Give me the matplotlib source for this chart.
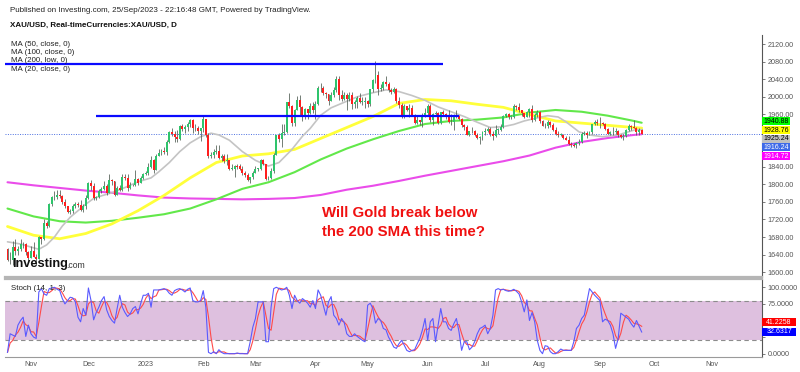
import matplotlib
matplotlib.use('Agg')
import matplotlib.pyplot as plt
import numpy as np
import pandas as pd
from matplotlib.patches import Rectangle

# ---------------- data ----------------
start_date = '2022-10-19'
first_open = 1652
close = [1628, 1627, 1657, 1649, 1652, 1665, 1663, 1645, 1633, 1647,
         1635, 1630, 1681, 1676, 1712, 1706, 1755, 1771, 1772, 1777,
         1774, 1761, 1751, 1738, 1740, 1750, 1755, 1754, 1741, 1750,
         1768, 1803, 1797, 1769, 1771, 1786, 1789, 1797, 1781, 1810,
         1807, 1777, 1793, 1788, 1817, 1814, 1792, 1798, 1798, 1813,
         1804, 1815, 1824, 1827, 1840, 1855, 1833, 1865, 1872, 1877,
         1875, 1897, 1920, 1916, 1908, 1904, 1933, 1926, 1931, 1937,
         1946, 1930, 1928, 1923, 1928, 1950, 1912, 1865, 1867, 1874,
         1876, 1861, 1865, 1854, 1855, 1836, 1836, 1842, 1841, 1835,
         1825, 1822, 1811, 1817, 1827, 1836, 1836, 1856, 1847, 1813,
         1815, 1831, 1868, 1913, 1904, 1918, 1919, 1989, 1978, 1940,
         1970, 1993, 1977, 1955, 1973, 1964, 1980, 1969, 1984, 2020,
         2021, 2008, 2007, 1990, 2004, 2015, 2040, 2004, 1995, 2005,
         1995, 2004, 1983, 1989, 1998, 1989, 1989, 1990, 1983, 2017,
         2039, 2050, 2017, 2021, 2035, 2030, 2015, 2011, 2018, 1990,
         1982, 1957, 1978, 1971, 1975, 1958, 1941, 1946, 1943, 1959,
         1962, 1978, 1948, 1961, 1963, 1940, 1965, 1961, 1957, 1943,
         1942, 1958, 1957, 1950, 1936, 1932, 1913, 1921, 1923, 1913,
         1907, 1908, 1919, 1921, 1926, 1915, 1911, 1925, 1925, 1932,
         1957, 1961, 1955, 1955, 1979, 1976, 1969, 1962, 1955, 1965,
         1972, 1946, 1959, 1965, 1944, 1934, 1933, 1943, 1936, 1925,
         1915, 1913, 1914, 1907, 1901, 1892, 1890, 1889, 1894, 1897,
         1915, 1917, 1914, 1920, 1937, 1942, 1940, 1940, 1939, 1926,
         1916, 1919, 1919, 1922, 1913, 1908, 1910, 1924, 1934, 1931,
         1930, 1920, 1925, 1916.24]
high = [1656, 1645, 1670, 1675, 1659, 1675, 1669, 1667, 1649, 1660,
        1669, 1642, 1683, 1681, 1722, 1717, 1757, 1774, 1786, 1787,
        1788, 1775, 1766, 1751, 1743, 1755, 1760, 1759, 1764, 1755,
        1775, 1805, 1810, 1804, 1773, 1790, 1795, 1807, 1800, 1824,
        1813, 1809, 1796, 1798, 1823, 1823, 1823, 1805, 1802, 1833,
        1815, 1819, 1826, 1830, 1850, 1865, 1858, 1869, 1881, 1880,
        1886, 1902, 1922, 1930, 1922, 1925, 1935, 1938, 1936, 1942,
        1949, 1949, 1937, 1933, 1930, 1959, 1950, 1918, 1874, 1880,
        1890, 1890, 1870, 1869, 1870, 1856, 1846, 1845, 1847, 1846,
        1841, 1831, 1827, 1818, 1830, 1842, 1838, 1857, 1858, 1847,
        1820, 1837, 1871, 1914, 1918, 1937, 1937, 1989, 2009, 1982,
        1973, 2003, 2004, 1980, 1975, 1972, 1986, 1988, 1990, 2025,
        2032, 2025, 2011, 2007, 2010, 2022, 2048, 2047, 2015, 2010,
        2008, 2010, 2012, 1993, 2003, 2009, 1999, 1999, 1993, 2019,
        2041, 2081, 2058, 2030, 2037, 2048, 2034, 2021, 2022, 2020,
        1999, 1985, 1984, 1980, 1984, 1981, 1960, 1957, 1948, 1963,
        1974, 1983, 1983, 1962, 1968, 1966, 1966, 1971, 1963, 1970,
        1960, 1960, 1969, 1959, 1951, 1939, 1935, 1923, 1931, 1925,
        1917, 1910, 1921, 1929, 1931, 1932, 1921, 1935, 1930, 1939,
        1959, 1963, 1964, 1959, 1984, 1982, 1987, 1969, 1964, 1967,
        1975, 1982, 1962, 1970, 1967, 1947, 1940, 1946, 1944, 1940,
        1932, 1922, 1918, 1915, 1911, 1911, 1898, 1895, 1898, 1904,
        1920, 1922, 1923, 1923, 1939, 1948, 1949, 1953, 1942, 1940,
        1928, 1923, 1932, 1928, 1925, 1915, 1915, 1926, 1937, 1936,
        1947, 1932, 1930, 1927]
low = [1626, 1618, 1617, 1638, 1640, 1648, 1654, 1640, 1627, 1631,
       1634, 1616, 1629, 1665, 1674, 1700, 1702, 1750, 1764, 1766,
       1770, 1755, 1747, 1735, 1733, 1734, 1747, 1748, 1740, 1738,
       1745, 1767, 1787, 1765, 1764, 1768, 1780, 1788, 1776, 1781,
       1799, 1774, 1776, 1785, 1785, 1810, 1784, 1789, 1796, 1797,
       1798, 1803, 1812, 1822, 1822, 1838, 1825, 1834, 1864, 1867,
       1869, 1867, 1895, 1911, 1896, 1897, 1901, 1922, 1918, 1922,
       1931, 1918, 1922, 1916, 1900, 1920, 1908, 1861, 1860, 1861,
       1870, 1857, 1853, 1850, 1844, 1832, 1832, 1818, 1836, 1832,
       1822, 1818, 1809, 1804, 1813, 1826, 1831, 1834, 1844, 1810,
       1810, 1812, 1826, 1868, 1896, 1885, 1912, 1918, 1975, 1934,
       1934, 1969, 1957, 1944, 1949, 1950, 1960, 1962, 1950, 1982,
       2010, 2005, 1998, 1981, 1990, 1999, 2012, 1993, 1991, 1993,
       1969, 1990, 1973, 1975, 1975, 1987, 1982, 1975, 1977, 1978,
       2011, 2032, 2005, 2014, 2015, 2025, 2010, 2006, 2008, 1987,
       1975, 1952, 1951, 1967, 1955, 1957, 1937, 1938, 1936, 1932,
       1955, 1958, 1943, 1935, 1956, 1938, 1938, 1958, 1950, 1941,
       1935, 1925, 1952, 1946, 1931, 1925, 1912, 1910, 1917, 1910,
       1903, 1893, 1902, 1912, 1919, 1911, 1902, 1908, 1915, 1923,
       1928, 1953, 1950, 1949, 1951, 1969, 1966, 1957, 1952, 1954,
       1955, 1942, 1945, 1953, 1941, 1933, 1928, 1928, 1932, 1921,
       1913, 1908, 1911, 1903, 1901, 1890, 1885, 1885, 1884, 1891,
       1895, 1912, 1905, 1912, 1915, 1935, 1936, 1930, 1936, 1924,
       1915, 1914, 1914, 1916, 1908, 1905, 1901, 1909, 1922, 1925,
       1928, 1914, 1913, 1915]

# Moving averages, read at sampled bars (bar index, value)
ma20_bar = [0, 5, 9, 12, 15, 18, 21, 24, 27, 30, 33, 36, 40, 45, 50, 55, 58, 62, 66, 70,
            74, 78, 81, 85, 90, 95, 100, 104, 109, 113, 116, 120, 124, 128, 134, 139, 145,
            150, 155, 160, 165, 170, 175, 180, 185, 190, 194, 198, 203, 207, 211, 214, 219,
            223, 228, 234, 240, 243]
ma20_val = [1669, 1664, 1657, 1652, 1662, 1680, 1705, 1725, 1740, 1755, 1768, 1774, 1781,
            1793, 1806, 1815, 1829, 1850, 1875, 1895, 1909, 1917, 1913, 1901, 1875, 1855,
            1842, 1850, 1880, 1910, 1928, 1958, 1975, 1985, 2000, 2008, 2016, 2012, 2003,
            1992, 1977, 1966, 1955, 1942, 1930, 1932, 1937, 1945, 1952, 1957, 1954, 1943,
            1920, 1913, 1909, 1913, 1924, 1925.24]
ma50_bar = [0, 10, 20, 30, 40, 50, 60, 70, 80, 90, 100, 110, 120, 130, 140, 150, 160, 170,
            180, 190, 200, 210, 220, 230, 240, 243]
ma50_val = [1704, 1684, 1676, 1688, 1710, 1740, 1775, 1815, 1850, 1865, 1870, 1880, 1905,
            1930, 1955, 1985, 1994, 1991, 1983, 1976, 1960, 1945, 1940, 1935, 1930, 1928.76]
ma100_bar = ma50_bar
ma100_val = [1745, 1727, 1716, 1713, 1717, 1724, 1732, 1745, 1766, 1790, 1805, 1828, 1857,
             1882, 1903, 1922, 1938, 1945, 1948, 1953, 1964, 1970, 1966, 1957, 1945, 1940.88]
ma200_bar = ma50_bar
ma200_val = [1805, 1798, 1792, 1786, 1781, 1775, 1770, 1768, 1767, 1766, 1767, 1769, 1776,
             1788, 1797, 1808, 1820, 1831, 1842, 1853, 1866, 1884, 1897, 1906, 1913, 1914.72]

# Stochastic %K (14, 1); %D = 3-bar mean
stoch_k = [2, 30, 28, 26, 43, 50, 55, 26, 43, 30, 25, 23, 93, 98, 90, 88, 98, 99, 100, 97,
           95, 83, 75, 80, 85, 84, 78, 55, 48, 68, 58, 99, 80, 51, 62, 70, 80, 86, 66, 56,
           50, 46, 68, 88, 70, 62, 56, 60, 68, 71, 60, 75, 88, 88, 91, 70, 96, 96, 96, 97,
           98, 96, 91, 88, 95, 97, 98, 96, 93, 97, 99, 80, 78, 78, 80, 95, 70, 2, 0, 3,
           0, 6, 2, 0, 0, 0, 0, 0, 1, 0, 0, 0, 0, 18, 40, 53, 78, 78, 78, 18,
           18, 70, 98, 100, 98, 96, 97, 100, 88, 68, 88, 80, 76, 83, 80, 76, 70, 80, 68, 96,
           88, 73, 58, 78, 86, 58, 53, 43, 53, 47, 30, 26, 26, 30, 26, 23, 20, 18, 73, 76,
           68, 46, 53, 50, 38, 36, 25, 18, 10, 8, 15, 20, 13, 5, 3, 5, 6, 15, 23, 36,
           53, 20, 48, 53, 18, 43, 68, 48, 48, 38, 35, 45, 53, 33, 5, 18, 18, 6, 10, 18,
           30, 38, 40, 43, 30, 38, 58, 96, 98, 96, 97, 95, 94, 95, 97, 94, 90, 78, 63, 81,
           50, 62, 48, 20, 5, 0, 12, 11, 3, 0, 0, 3, 7, 5, 5, 5, 5, 18, 38, 43,
           53, 58, 78, 98, 93, 88, 84, 80, 48, 52, 50, 43, 30, 8, 23, 61, 58, 55, 52, 45,
           40, 49.9457, 41.1, 32.6317]

levels = [2076, 1956]
level_from = ['2022-10-18', '2022-12-07']
level_to = ['2023-06-09', '2023-06-19']

# ---------------- layout ----------------
W, H = 800, 372
def fx(px): return px / W
def fy(py): return 1 - py / H

FONT = ['Liberation Sans', 'DejaVu Sans']
plt.rcParams['font.family'] = FONT

fig = plt.figure(figsize=(8, 3.72), dpi=100, facecolor='white')
ax = fig.add_axes([fx(5), fy(277), fx(762) - fx(5), fy(35) - fy(277)])
ax2 = fig.add_axes([fx(5), fy(357), fx(762) - fx(5), fy(279) - fy(357)])

n = len(close)
dates = pd.bdate_range(start_date, periods=n + 50)
xi = np.arange(n)
c = np.array(close, dtype=float)
o = np.array([first_open] + close[:-1], dtype=float)
hi = np.array(high, dtype=float)
lo = np.array(low, dtype=float)
up = c >= o

def didx(d):
    return float(np.searchsorted(dates, pd.Timestamp(d)))

# MAs
ax.plot(ma200_bar, ma200_val, color='#ea4cea', lw=1.5, zorder=2, solid_capstyle='round')
ax.plot(ma100_bar, ma100_val, color='#62e84a', lw=1.5, zorder=2, solid_capstyle='round')
ax.plot(ma50_bar, ma50_val, color='#ffff3a', lw=2.0, zorder=2, solid_capstyle='round')
ax.plot(ma20_bar, ma20_val, color='#c4c4c4', lw=1.2, zorder=2, solid_capstyle='round')

# candles
ax.vlines(xi, lo, hi, color='#4d5a50', lw=0.55, zorder=3)
body = np.where(np.abs(c - o) < 1.2, np.sign(c - o + 1e-9) * 1.2, c - o)
ax.bar(xi[up], body[up], bottom=o[up], width=0.75, color='#2fc46c', lw=0, zorder=4)
ax.bar(xi[~up], body[~up], bottom=o[~up], width=0.75, color='#ff1e1e', lw=0, zorder=4)

# horizontal levels
for lv, a, b in zip(levels, level_from, level_to):
    ax.hlines(lv, didx(a) - 1, didx(b), color='#0a0aff', lw=1.6, zorder=5)
ax.axhline(close[-1], color='#4a6ee0', lw=0.7, ls=(0, (1, 1.5)), zorder=1)

ax.set_xlim(-0.96, 289.1)
ax.set_ylim(1588.7, 2141.2)
ax.set_xticks([])
yt = np.arange(1600, 2121, 40)
hidden_price = (1880, 1920)  # covered by the value labels
ax.yaxis.tick_right()
ax.set_yticks(yt)
ax.set_yticklabels(['' if v in hidden_price else f'{v:.2f}' for v in yt])
ax.tick_params(axis='y', length=2.5, width=0.6, color='#666666', labelsize=5.2,
               labelcolor='#555555', pad=1.5)
for s in ['top', 'left']:
    ax.spines[s].set_visible(False)
ax.spines['right'].set_color('#555555')
ax.spines['right'].set_linewidth(0.8)
ax.spines['bottom'].set_color('#b5b5b5')
ax.spines['bottom'].set_linewidth(1.6)

# stochastic panel
k = np.array(stoch_k, dtype=float)
d = pd.Series(k).rolling(3, min_periods=1).mean().values
ax2.axhspan(20, 80, color='#dec0df', lw=0, zorder=0)
for lvl in (20, 80):
    ax2.axhline(lvl, color='#8c8c8c', lw=0.8, ls=(0, (4, 3)), zorder=1)
ax2.plot(xi, k, color='#5a5aff', lw=0.8, zorder=3)
ax2.plot(xi, d, color='#ff4a4a', lw=0.8, zorder=2)
ax2.set_xlim(-0.96, 289.1)
ax2.set_ylim(-5, 112.5)
st = [0, 25, 75, 100]
ax2.yaxis.tick_right()
ax2.set_yticks(st)
ax2.set_yticklabels(['' if v == 25 else f'{v:.4f}' for v in st])
ax2.tick_params(axis='y', length=2.5, width=0.6, color='#666666', labelsize=5.2,
                labelcolor='#555555', pad=1.5)
ms = pd.date_range('2022-11-01', '2023-11-01', freq='MS')
mpos, mlab = [], []
for m in ms:
    mpos.append(didx(m))
    mlab.append('2023' if m.month == 1 else m.strftime('%b'))
ax2.set_xticks(mpos)
ax2.set_xticklabels(mlab)
ax2.tick_params(axis='x', length=0, labelsize=5.2, labelcolor='#555555', pad=3)
ax2.spines['left'].set_visible(False)
ax2.spines['top'].set_color('#b5b5b5')
ax2.spines['top'].set_linewidth(1.6)
ax2.spines['right'].set_color('#555555')
ax2.spines['right'].set_linewidth(0.8)
ax2.spines['bottom'].set_color('#9a9a9a')
ax2.spines['bottom'].set_linewidth(0.8)

# ---------------- texts ----------------
fig.text(fx(10), fy(10), 'Published on Investing.com, 25/Sep/2023 - 22:16:48 GMT, Powered by TradingView.',
         fontsize=5.75, color='#222222', va='center', ha='left')
fig.text(fx(10), fy(25), 'XAU/USD, Real-timeCurrencies:XAU/USD, D', fontsize=5.75,
         fontweight='bold', color='#111111', va='center', ha='left')
for txt, yy in [('MA (50, close, 0)', 44), ('MA (100, close, 0)', 52.5),
                ('MA (200, low, 0)', 61), ('MA (20, close, 0)', 69.5)]:
    fig.text(fx(11), fy(yy), txt, fontsize=5.7, color='#222222', va='center', ha='left', zorder=1)
fig.text(fx(11), fy(288), 'Stoch (14, 1, 3)', fontsize=5.7, color='#222222', va='center', ha='left')

fig.text(fx(12), fy(264), 'Investing', fontsize=9.2, fontweight='bold', color='#111111',
         va='center', ha='left')
fig.text(fx(66.5), fy(265.5), '.com', fontsize=6.2, color='#333333', va='center', ha='left')

fig.text(fx(322), fy(213), 'Will Gold break below', fontsize=10.8, fontweight='bold',
         color='#f01010', va='center', ha='left')
fig.text(fx(322), fy(232), 'the 200 SMA this time?', fontsize=10.8, fontweight='bold',
         color='#f01010', va='center', ha='left')

# price labels on right axis
BH = 8.0
plabels = [(ma100_val[-1], 121.2, '#00ff00', 'black'),
           (ma50_val[-1], 130.0, '#ffff00', 'black'),
           (ma20_val[-1], 138.7, '#c0c0c0', 'black'),
           (close[-1], 147.4, '#3f6ae8', 'white'),
           (ma200_val[-1], 156.1, '#ff00ff', 'white')]
for val, yc, bg, fg in plabels:
    fig.patches.append(Rectangle((fx(762), fy(yc + BH / 2)), fx(28), BH / H, transform=fig.transFigure,
                                 facecolor=bg, edgecolor='none', zorder=5))
    fig.text(fx(776), fy(yc), f'{val:.2f}', fontsize=5.0, color=fg, ha='center', va='center', zorder=6)

slabels = [(d[-1], 322.0, '#ff0000'), (k[-1], 331.5, '#0000ff')]
for val, yc, bg in slabels:
    fig.patches.append(Rectangle((fx(762), fy(yc + BH / 2)), fx(34), BH / H, transform=fig.transFigure,
                                 facecolor=bg, edgecolor='none', zorder=5))
    fig.text(fx(779), fy(yc), f'{val:.4f}', fontsize=5.0, color='white', ha='center', va='center', zorder=6)

fig.savefig('out.png', dpi=100, facecolor='white')
